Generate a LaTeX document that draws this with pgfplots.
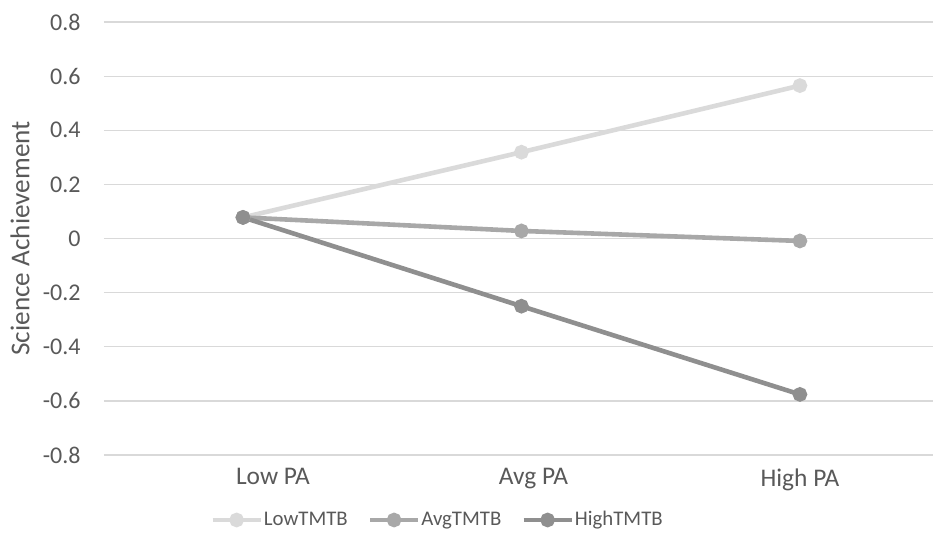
\documentclass[border=0pt]{standalone}
\usepackage{fontspec}
\setmainfont{Carlito}
\usepackage{pgfplots}
\pgfplotsset{compat=1.18}

\definecolor{txt}{HTML}{595959}
\definecolor{gridgray}{HTML}{D9D9D9}
\definecolor{cLow}{HTML}{DADADA}
\definecolor{cAvg}{HTML}{A8A8A8}
\definecolor{cHigh}{HTML}{8F8F8F}

\newcommand{\xfont}{\fontsize{12.7}{15}\selectfont}
\newcommand{\yfont}{\fontsize{12}{14.4}\selectfont}
\newcommand{\labfont}{\fontsize{13.6}{16}\selectfont}
\newcommand{\legfont}{\fontsize{10.4}{12.5}\selectfont}

\begin{document}
\begin{tikzpicture}
\begin{axis}[
    scale only axis,
    width=414.6pt,
    height=216.5pt,
    xmin=-0.5, xmax=2.478,
    ymin=-0.8, ymax=0.8,
    xtick={0,1,2},
    xticklabels={\hspace*{30pt}Low PA, \hspace*{12pt}Avg PA, High PA},
    ytick={-0.8,-0.6,-0.4,-0.2,0,0.2,0.4,0.6,0.8},
    /pgf/number format/assume math mode=true,
    /pgf/number format/fixed,
    /pgf/number format/precision=1,
    axis line style={draw=none},
    major tick length=0pt,
    ymajorgrids=true,
    xmajorgrids=false,
    major grid style={draw=gridgray, line width=0.6pt},
    xticklabel style={font=\xfont, text=txt, inner sep=0pt, anchor=north, yshift=-6.5pt},
    yticklabel style={font=\yfont, text=txt, inner sep=0pt, anchor=east, xshift=-11.4pt},
    ylabel={Science Achievement},
    ylabel style={font=\labfont, text=txt, at={(axis description cs:-0.101,0.5)}, anchor=center},
    legend columns=3,
    legend style={draw=none, fill=none, inner sep=0pt, font=\legfont, text=txt,
        at={(0.128,-0.150)}, anchor=west,
        nodes={inner sep=0.5pt},
        /tikz/every even column/.append style={column sep=9.5pt}},
    legend image code/.code={
        \draw[#1, mark=none] (0pt,0pt) -- (24pt,0pt);
        \draw[#1, only marks] plot coordinates {(12pt,0pt)};
    },
    every axis plot/.append style={line width=2.3pt, mark=*, mark size=2.5pt},
]
\addplot[color=cLow, mark options={fill=cLow, draw=cLow}] coordinates {(0,0.078) (1,0.319) (2,0.565)};
\addlegendentry{LowTMTB}
\addplot[color=cAvg, mark options={fill=cAvg, draw=cAvg}] coordinates {(0,0.078) (1,0.028) (2,-0.009)};
\addlegendentry{AvgTMTB}
\addplot[color=cHigh, mark options={fill=cHigh, draw=cHigh}] coordinates {(0,0.078) (1,-0.250) (2,-0.576)};
\addlegendentry{HighTMTB}
\end{axis}
\pgfresetboundingbox
\path ([xshift=-51.875pt, yshift=-39pt]current axis.south west) rectangle ([yshift=11pt]current axis.north east);
\end{tikzpicture}
\end{document}
